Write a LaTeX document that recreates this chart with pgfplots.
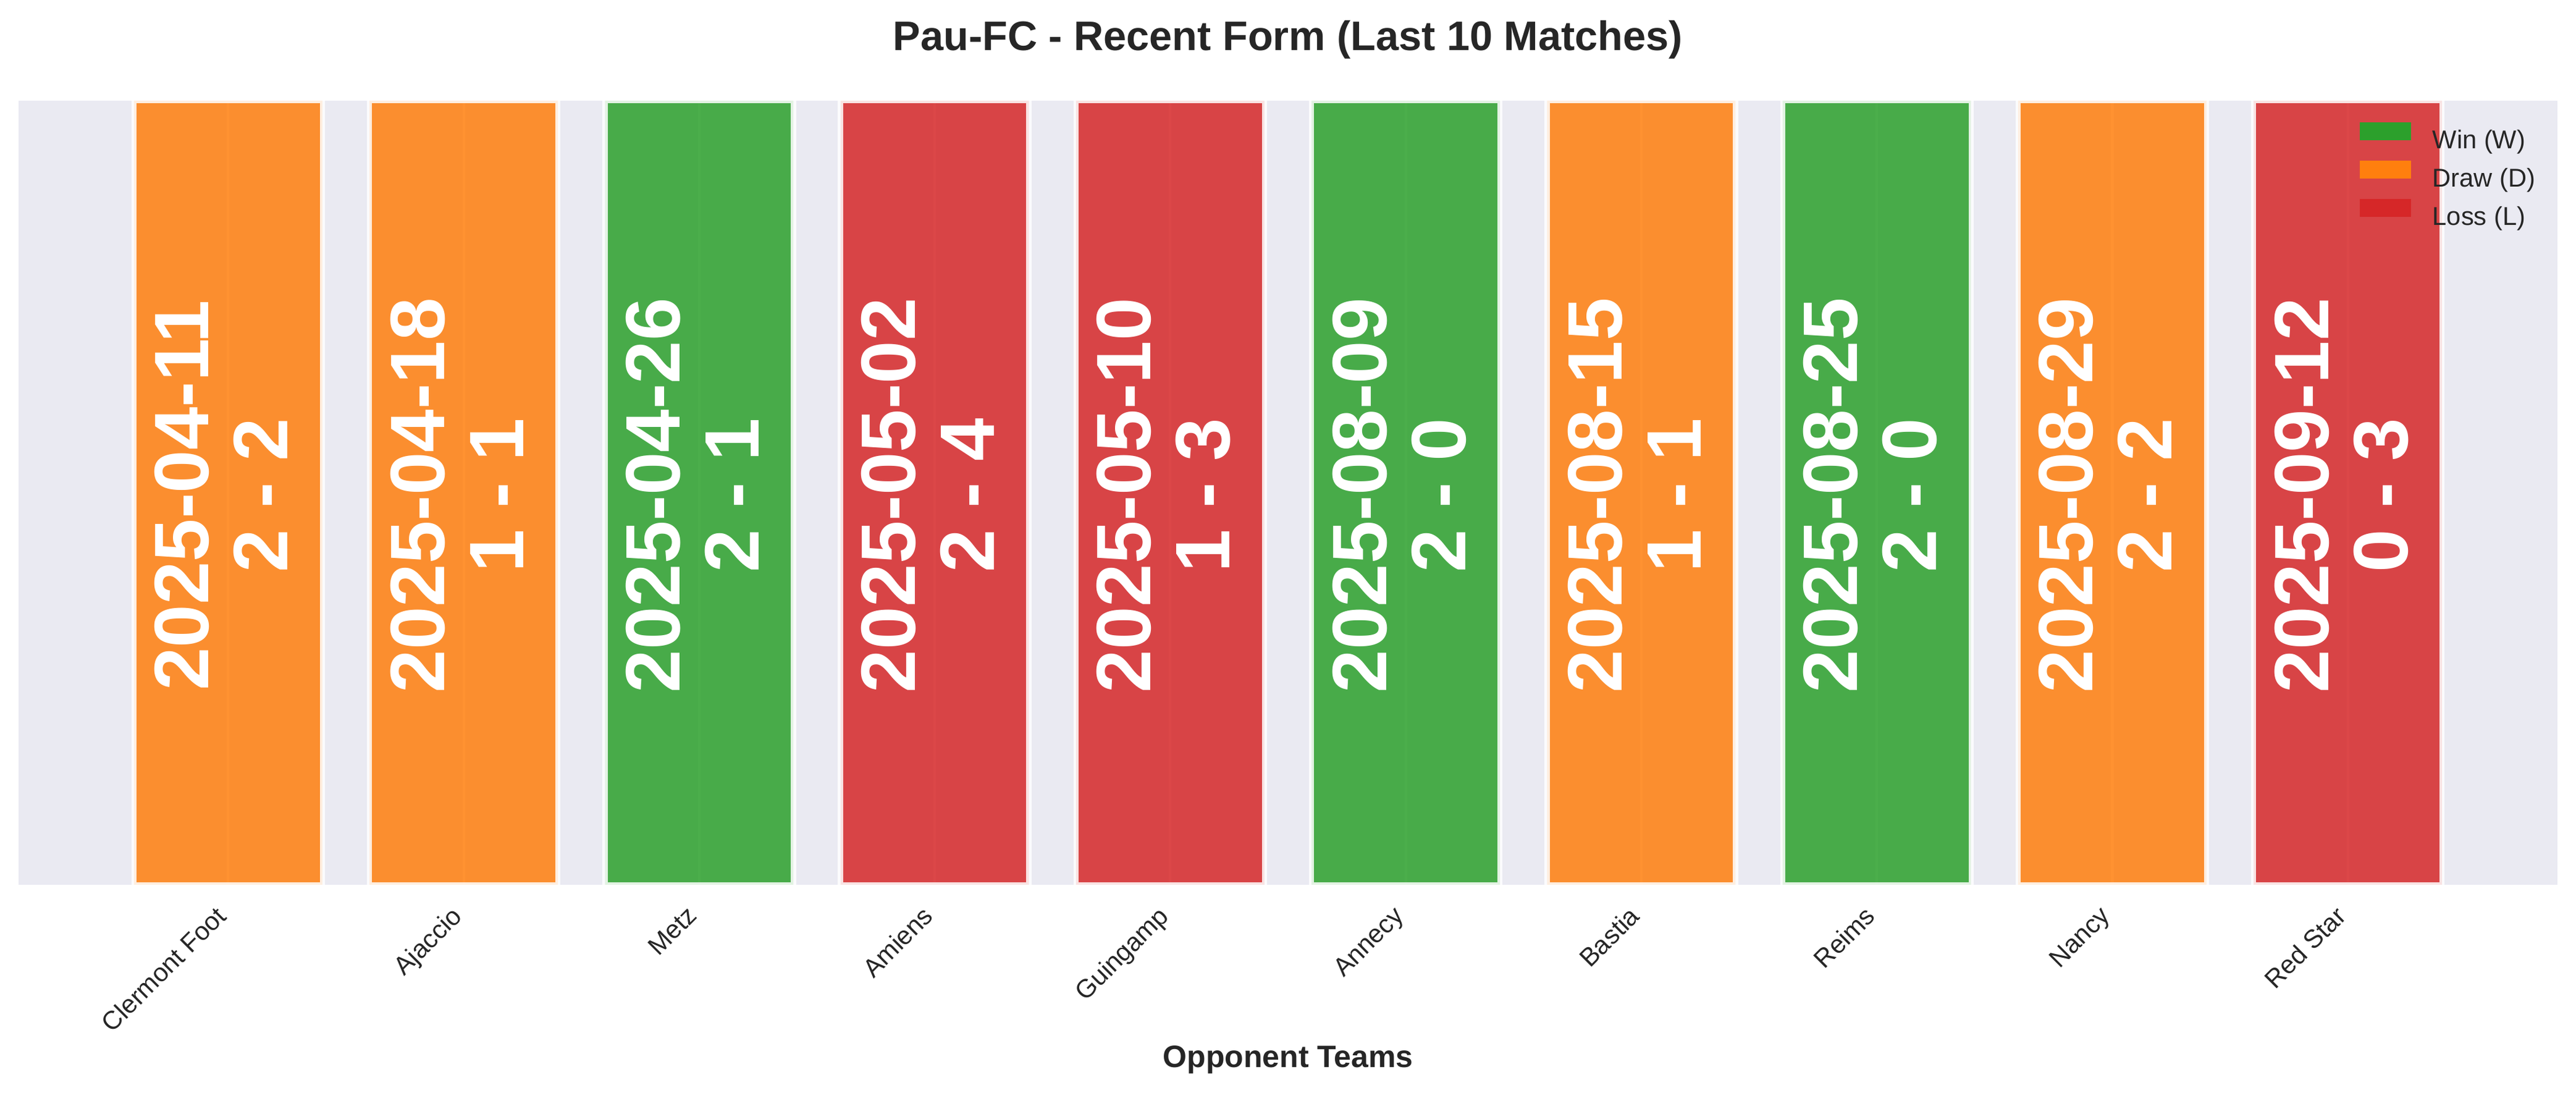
\documentclass[border=0pt]{standalone}
\usepackage{fontspec}
\setmainfont{Liberation Sans}
\usepackage{pgfplots}
\pgfplotsset{compat=1.18}

\definecolor{wincol}{HTML}{2CA02C}
\definecolor{drawcol}{HTML}{FF7F0E}
\definecolor{losscol}{HTML}{D62728}
\definecolor{bgcol}{HTML}{EAEAF2}
\definecolor{txt}{HTML}{262626}

\pgfplotsset{
  barstyle/.style={ybar, bar width=0.8, bar shift=0pt, fill opacity=0.85,
                   draw=white, draw opacity=0.85, line width=2pt}
}

% one match: x position, date, score
\newcommand{\res}[3]{%
  \node[lbl, xshift=-7.56pt, yshift=-1pt, rotate=90, anchor=base] at (axis cs:#1,0.5) {#2};
  \node[lbl, xshift=23.16pt, yshift=-1pt, rotate=90, anchor=base] at (axis cs:#1,0.5) {#3};
}

\begin{document}
\begin{tikzpicture}[
    lbl/.style={text=white, inner sep=0pt, font=\fontsize{30}{36}\selectfont\bfseries}
  ]
  \path[use as bounding box] (-7.2pt,-80.88pt) rectangle (993.6pt,343.68pt);
  \begin{axis}[
      ,scale only axis
      ,width          = 986.4pt
      ,height         = 304.56pt
      ,xmin = -0.89, xmax = 9.89
      ,ymin = 0, ymax = 1
      ,axis background/.style = {fill=bgcol}
      ,axis line style = {draw=none}
      ,major tick length = 0pt
      ,ytick          = \empty
      ,xtick          = {0,...,9}
      ,xticklabels    = {Clermont Foot, Ajaccio, Metz, Amiens, Guingamp,
                         Annecy, Bastia, Reims, Nancy, Red Star}
      ,xticklabel style = {xshift=-5.3pt, yshift=-7.5pt, rotate=45,
                           anchor=north east, inner sep=0pt, text=txt,
                           font=\fontsize{10}{12}\selectfont}
      ,xmajorgrids    = true
      ,major grid style = {white, line width=1pt}
      ,title          = {Pau-FC - Recent Form (Last 10 Matches)}
      ,title style    = {at={(axis description cs:0.5,1)}, anchor=base,
                         yshift=13.44pt, inner sep=0pt, text=txt,
                         font=\fontsize{16}{19}\selectfont\bfseries}
      ,xlabel         = {Opponent Teams}
      ,xlabel style   = {at={(axis description cs:0.5,0)}, anchor=base,
                         yshift=-71.04pt, inner sep=0pt, text=txt,
                         font=\fontsize{12}{14}\selectfont\bfseries}
      ,legend style   = {at={(axis description cs:0.9219,0.9727)},
                         anchor=north west, draw=none, fill=none,
                         inner sep=0pt, row sep=1.3pt, column sep=6.4pt,
                         text=txt, font=\fontsize{10}{12}\selectfont}
      ,legend cell align = left
      ,legend image code/.code = {\fill[#1, draw=none] (0pt,0.25pt) rectangle (19.9pt,7.2pt);}
      ]
    % results: W = win, D = draw, L = loss (bars fill the whole height)
    \addplot[barstyle, fill=wincol, forget plot]  coordinates {(2,1) (5,1) (7,1)};
    \addplot[barstyle, fill=drawcol, forget plot] coordinates {(0,1) (1,1) (6,1) (8,1)};
    \addplot[barstyle, fill=losscol, forget plot] coordinates {(3,1) (4,1) (9,1)};

    \addlegendimage{fill=wincol}
    \addlegendentry{Win (W)}
    \addlegendimage{fill=drawcol}
    \addlegendentry{Draw (D)}
    \addlegendimage{fill=losscol}
    \addlegendentry{Loss (L)}

    \res{0}{2025-04-11}{2 - 2}
    \res{1}{2025-04-18}{1 - 1}
    \res{2}{2025-04-26}{2 - 1}
    \res{3}{2025-05-02}{2 - 4}
    \res{4}{2025-05-10}{1 - 3}
    \res{5}{2025-08-09}{2 - 0}
    \res{6}{2025-08-15}{1 - 1}
    \res{7}{2025-08-25}{2 - 0}
    \res{8}{2025-08-29}{2 - 2}
    \res{9}{2025-09-12}{0 - 3}
  \end{axis}
\end{tikzpicture}
\end{document}
